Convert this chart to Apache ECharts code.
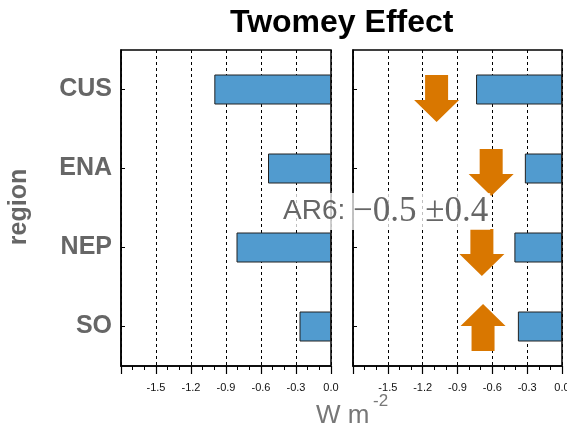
<!DOCTYPE html>
<html>
<head>
<meta charset="utf-8">
<script src="https://cdn.jsdelivr.net/npm/echarts@6/dist/echarts.min.js"></script>
<style>html,body{margin:0;padding:0;background:#fff}#c{width:567px;height:428px}</style>
</head>
<body>
<div id="c"></div>
<script>
// ---- data ----
const regions = ['CUS', 'ENA', 'NEP', 'SO'];
const leftValues = [-1.00, -0.54, -0.81, -0.27];
const rightValues = [-0.74, -0.32, -0.41, -0.38];
const arrowValues = [-1.08, -0.61, -0.69, -0.68];
const arrowDirections = ['down', 'down', 'down', 'up'];
const xTickLabels = ['-1.5', '-1.2', '-0.9', '-0.6', '-0.3', '0.0'];
const xMin = -1.8, xMax = 0, xStep = 0.3;
const titleText = 'Twomey Effect';
const yAxisTitle = 'region';
const annotationLabel = 'AR6: ';
const annotationValue = '\u22120.5 \u00b10.4';

// ---- styling ----
const FONT = 'Liberation Sans, Arial, sans-serif';
const BAR_COLOR = '#519bcf';
const ARROW_COLOR = '#d97700';
const downPath = 'path://M11,0 L34,0 L34,25 L45,25 L22.5,47 L0,25 L11,25 Z';
const upPath = 'path://M22.5,0 L45,22 L34,22 L34,47 L11,47 L11,22 L0,22 Z';
const arrowOffsets = [[0, 9], [0, 4], [0, 5], [0, 1]];

const chart = echarts.init(document.getElementById('c'), null, {renderer: 'canvas'});

function makeX(gi) {
  return {
    type: 'value', gridIndex: gi, min: xMin, max: xMax, interval: xStep,
    axisLine: {show: true, onZero: false, lineStyle: {color: '#000', width: 1.5}},
    axisTick: {show: true, length: 8, lineStyle: {color: '#000', width: 1.2}},
    minorTick: {show: true, splitNumber: 3, length: 4, lineStyle: {color: '#000', width: 1}},
    axisLabel: {
      fontSize: 11, color: '#111', margin: 16, fontFamily: FONT, hideOverlap: false,
      formatter: v => { const s = (Math.abs(v) < 1e-9 ? 0 : v).toFixed(1); return xTickLabels.includes(s) ? s : ''; }
    },
    splitLine: {show: true, lineStyle: {color: '#000', type: [3, 3], width: 1}}
  };
}
function makeY(gi, showLabels) {
  return {
    type: 'category', gridIndex: gi, data: regions, inverse: true,
    axisLine: {show: true, onZero: false, lineStyle: {color: '#000', width: 1.5}},
    axisTick: {show: true, inside: true, alignWithLabel: true, length: 4, lineStyle: {color: '#000'}},
    axisLabel: {show: showLabels, fontSize: 25, fontWeight: 'bold', color: '#666', margin: 9,
                fontFamily: FONT, padding: [7, 0, 0, 0]},
    splitLine: {show: false}
  };
}

const option = {
  animation: false,
  backgroundColor: '#fff',
  title: {
    text: titleText, left: 225, top: 2,
    textStyle: {fontSize: 32, fontWeight: 'bold', color: '#000', fontFamily: FONT}
  },
  grid: [
    {left: 121, top: 50, width: 210, height: 316, show: true, borderColor: '#000', borderWidth: 1.5,
     backgroundColor: 'transparent', containLabel: false, outerBoundsMode: 'none'},
    {left: 353, top: 50, width: 209, height: 316, show: true, borderColor: '#000', borderWidth: 1.5,
     backgroundColor: 'transparent', containLabel: false, outerBoundsMode: 'none'}
  ],
  xAxis: [makeX(0), makeX(1)],
  yAxis: [makeY(0, true), makeY(1, false)],
  series: [
    {type: 'bar', xAxisIndex: 0, yAxisIndex: 0, data: leftValues, barWidth: 30,
     itemStyle: {color: BAR_COLOR, borderColor: '#222', borderWidth: 1}},
    {type: 'bar', xAxisIndex: 1, yAxisIndex: 1, data: rightValues, barWidth: 30,
     itemStyle: {color: BAR_COLOR, borderColor: '#222', borderWidth: 1}},
    {type: 'scatter', xAxisIndex: 1, yAxisIndex: 1, z: 5,
     symbolSize: [45, 47],
     itemStyle: {color: ARROW_COLOR, opacity: 1},
     data: arrowValues.map((v, i) => ({
       value: [v, regions[i]],
       symbol: arrowDirections[i] === 'down' ? downPath : upPath,
       symbolOffset: arrowOffsets[i]
     }))}
  ],
  graphic: [
    {type: 'text', left: 281, top: 193, z: 100,
     style: {
       text: '{a|' + annotationLabel + '}{b|' + annotationValue + '}',
       backgroundColor: 'rgba(255,255,255,0.75)', padding: [1, 2],
       rich: {
         a: {fontSize: 28, fontFamily: FONT, fill: '#666', color: '#666'},
         b: {fontSize: 35, fontFamily: 'Liberation Serif, Times New Roman, serif', fill: '#666', color: '#666'}
       }
     }},
    {type: 'text', x: 19, y: 207, rotation: Math.PI / 2, z: 10,
     style: {text: yAxisTitle, fontSize: 25, fontWeight: 'bold', fontFamily: FONT, fill: '#666', align: 'center', verticalAlign: 'middle'}},
    {type: 'text', left: 316, top: 403, z: 10,
     style: {text: 'W m', fontSize: 26, fontFamily: FONT, fill: '#777'}},
    {type: 'text', left: 373, top: 393, z: 10,
     style: {text: '-2', fontSize: 17, fontFamily: FONT, fill: '#777'}}
  ]
};
chart.setOption(option);
</script>
</body>
</html>
